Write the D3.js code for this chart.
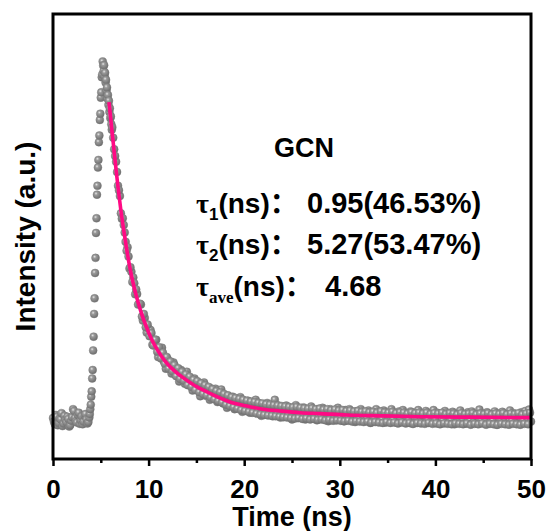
<!DOCTYPE html>
<meta charset="utf-8">
<script src="https://d3js.org/d3.v7.min.js"></script>
<style>
  body { margin: 0; background: #fff; }
  text { font-family: Arial, "Liberation Sans", "Noto Sans CJK SC", sans-serif; font-weight: bold; fill: #000; }
</style>
<svg id="chart" width="552" height="531"></svg>

<script>

// TRPL decay of GCN, counts (arbitrary units)
// pre-pulse baseline, sampled every 0.1 ns from 0 ns
var preStart = 0, preStep = 0.1;
var preCounts = [92, 84, 78, 99, 95, 76, 81, 91, 89, 103,
  74, 80, 97, 88, 83, 95, 90, 73, 76, 86,
  94, 112, 108, 92, 85, 82, 99, 104, 79, 87,
  96, 78, 84, 98, 101, 89, 80, 83, 93];

// rise and peak, sampled every 0.05 ns from 3.85 ns
var riseStart = 3.85, riseStep = 0.05;
var riseCounts = [101, 112, 122, 140, 152, 181, 200, 244, 275, 326, 361, 418, 452, 508, 541, 594,
  614, 655, 672, 712, 727, 762, 776, 812, 824, 858, 864, 893, 884,
  872, 885, 860, 868, 846, 852, 828, 835, 810, 818, 796, 805, 780, 788, 766, 770, 752, 740];

// decay tail, sampled every 0.2 ns from 6.2 ns
var decayStart = 6.2, decayStep = 0.2;
var decayCounts = [745, 696, 668, 614, 591, 540, 526, 488, 476, 428,
  421, 408, 370, 371, 348, 347, 311, 317, 284, 293,
  290, 257, 262, 268, 229, 243, 250, 219, 203, 224,
  210, 192, 217, 189, 202, 174, 200, 185, 169, 196,
  168, 179, 154, 181, 160, 171, 141, 162, 172, 142,
  154, 133, 158, 137, 158, 128, 141, 156, 125, 139,
  115, 140, 124, 140, 112, 129, 115, 139, 106, 129,
  117, 131, 104, 123, 106, 133, 109, 125, 97, 116,
  101, 126, 108, 119, 96, 133, 101, 120, 93, 113,
  97, 120, 101, 115, 89, 108, 121, 92, 111, 95,
  116, 89, 108, 96, 118, 91, 110, 87, 113, 98,
  115, 89, 103, 85, 112, 94, 109, 87, 115, 91,
  105, 85, 110, 96, 112, 87, 102, 83, 108, 91,
  112, 86, 104, 88, 109, 81, 102, 92, 112, 84,
  106, 89, 109, 82, 99, 86, 112, 90, 104, 81,
  107, 92, 110, 83, 101, 86, 107, 79, 104, 92,
  110, 84, 99, 81, 108, 88, 103, 83, 110, 89,
  104, 79, 101, 85, 108, 81, 97, 88, 106, 78,
  103, 90, 109, 83, 100, 80, 105, 86, 107, 82,
  98, 79, 111, 88, 102, 83, 105, 80, 98, 86,
  107, 77, 102, 89, 106, 82, 100, 79, 109, 85,
  103, 81, 97, 78, 105, 87, 108, 83, 111, 84];

// interleaved channels of the decay tail, every 0.2 ns from 6.3 ns
var decayStart2 = 6.3, decayStep2 = 0.2;
var decayCounts2 = [722, 681, 645, 604, 552, 541, 509, 468, 455, 431,
  398, 395, 381, 347, 349, 320, 326, 296, 302, 276,
  283, 255, 268, 241, 251, 226, 239, 214, 229, 203,
  219, 197, 211, 186, 204, 180, 196, 176, 190, 166,
  185, 162, 178, 155, 175, 150, 170, 146, 166, 143,
  162, 138, 157, 134, 153, 130, 150, 127, 146, 122,
  143, 119, 139, 116, 137, 113, 135, 110, 133, 108,
  131, 106, 129, 104, 128, 102, 126, 100, 125, 99,
  123, 98, 122, 97, 121, 96, 120, 95, 119, 94,
  118, 93, 117, 92, 116, 91, 117, 92, 115, 90,
  114, 91, 113, 89, 114, 90, 112, 88, 113, 89,
  111, 87, 112, 88, 110, 86, 111, 87, 109, 86,
  110, 85, 108, 86, 109, 84, 107, 85, 108, 84,
  106, 83, 107, 84, 105, 82, 106, 83, 104, 82,
  107, 81, 105, 83, 104, 81, 106, 82, 103, 80,
  105, 82, 104, 80, 102, 81, 105, 79, 103, 81,
  104, 80, 102, 79, 104, 81, 101, 79, 103, 80,
  102, 78, 104, 80, 101, 79, 103, 78, 102, 80,
  100, 79, 103, 78, 101, 80, 102, 77, 103, 79,
  100, 78, 102, 80, 101, 77, 103, 79, 100, 78,
  102, 77, 101, 79, 103, 78, 100, 77, 102, 79,
  101, 78, 103, 77, 100, 79, 102, 78, 104];

// bi-exponential fit curve
var fitTime = [5.86, 6.17, 6.49, 6.80, 7.11, 7.43, 7.74, 8.05, 8.47, 8.89, 9.31, 9.73, 10.36, 10.98,
  11.72, 12.45, 13.28, 14.12, 15.06, 15.90, 16.74, 17.68, 18.51, 20.29, 21.97, 23.74, 25.84,
  27.93, 30.75, 34.21, 38.39, 43.62, 50];
var fitCounts = [802, 737, 672, 611, 557, 510, 467, 429, 387, 353, 324, 299, 267, 243,
  220, 203, 188, 175, 162, 153, 144, 135, 128, 119, 112, 108, 104,
  102, 99, 97, 95, 94, 93];

var xTicks = [0, 10, 20, 30, 40, 50];
var xMinorTicks = [5, 15, 25, 35, 45];

var svg = d3.select("#chart");
var plotLeft = 53, plotRight = 531, plotTop = 14, plotBottom = 459;

var x = d3.scaleLinear().domain([0, 50]).range([plotLeft, plotRight]);
var y = d3.scaleLinear().domain([0, 1000]).range([plotBottom, plotTop]);

// shaded ball symbol
var grad = svg.append("defs").append("radialGradient")
    .attr("id", "ball").attr("cx", "38%").attr("cy", "35%").attr("r", "65%");
grad.append("stop").attr("offset", "0%").attr("stop-color", "#e8e8e8");
grad.append("stop").attr("offset", "30%").attr("stop-color", "#9a9a9a");
grad.append("stop").attr("offset", "100%").attr("stop-color", "#6f6f6f");

// build point list
var points = [];
function addSegment(start, step, counts) {
  counts.forEach(function(c, i){ points.push([start + i * step, c]) });
}
addSegment(preStart, preStep, preCounts);
addSegment(riseStart, riseStep, riseCounts);
addSegment(decayStart, decayStep, decayCounts);
addSegment(decayStart2, decayStep2, decayCounts2);

svg.append("g")
  .selectAll("circle")
  .data(points)
  .enter().append("circle")
    .attr("cx", function(d){ return x(d[0]) })
    .attr("cy", function(d){ return y(d[1]) })
    .attr("r", 4)
    .attr("fill", "url(#ball)")
    .attr("stroke", "#777")
    .attr("stroke-width", 0.4);

// fit line
var fit = fitTime.map(function(t, i){ return [t, fitCounts[i]] });
svg.append("path")
  .datum(fit)
  .attr("d", d3.line()
      .x(function(d){ return x(d[0]) })
      .y(function(d){ return y(d[1]) })
      .curve(d3.curveMonotoneX))
  .attr("fill", "none")
  .attr("stroke", "#ff0a84")
  .attr("stroke-width", 3.6);

// frame
svg.append("rect")
  .attr("x", plotLeft).attr("y", plotTop)
  .attr("width", plotRight - plotLeft).attr("height", plotBottom - plotTop)
  .attr("fill", "none").attr("stroke", "#000").attr("stroke-width", 3);

// x axis
var xAxis = svg.append("g")
  .attr("transform", "translate(0," + plotBottom + ")")
  .call(d3.axisBottom(x).tickValues(xTicks).tickSize(7).tickFormat(d3.format("d")));
xAxis.select(".domain").remove();
xAxis.selectAll(".tick line").attr("stroke", "#000").attr("stroke-width", 2.5);
xAxis.selectAll(".tick text")
  .attr("y", 21).attr("dy", "0.71em")
  .style("font-size", "26px")
  .style("font-family", "Arial, 'Liberation Sans', sans-serif")
  .style("font-weight", "bold")
  .attr("fill", "#000");

var xMinor = svg.append("g")
  .attr("transform", "translate(0," + plotBottom + ")")
  .call(d3.axisBottom(x).tickValues(xMinorTicks).tickSize(4).tickFormat(""));
xMinor.select(".domain").remove();
xMinor.selectAll(".tick line").attr("stroke", "#000").attr("stroke-width", 2.5);

// axis titles
svg.append("text")
  .attr("x", (plotLeft + plotRight) / 2).attr("y", 526)
  .attr("text-anchor", "middle")
  .style("font-size", "27px")
  .text("Time (ns)");

svg.append("text")
  .attr("transform", "translate(35," + ((plotTop + plotBottom) / 2) + ") rotate(-90)")
  .attr("text-anchor", "middle")
  .style("font-size", "28px")
  .text("Intensity (a.u.)");

// annotation
svg.append("text")
  .attr("x", 274).attr("y", 157)
  .style("font-size", "27px")
  .text("GCN");

var tauLines = [
  { sub: "1", value: "0.95(46.53%)", y: 213, vx: 307 },
  { sub: "2", value: "5.27(53.47%)", y: 254, vx: 307 },
  { sub: "ave", value: "4.68", y: 296, vx: 325 }
];

tauLines.forEach(function(d){
  var t = svg.append("text").attr("x", 196).attr("y", d.y).style("font-size", "28px");
  t.append("tspan")
    .style("font-family", "'Liberation Serif', 'Times New Roman', serif")
    .text("τ");
  t.append("tspan")
    .attr("dy", 7)
    .style("font-size", "17px")
    .style("font-family", d.sub == "ave" ? "'Liberation Serif', serif" : null)
    .text(d.sub);
  t.append("tspan").attr("dy", -7).text("(ns)");
  t.append("tspan").style("font-family", "'Noto Sans CJK SC', sans-serif").text("：");
  svg.append("text")
    .attr("x", d.vx).attr("y", d.y)
    .style("font-size", "29px")
    .text(d.value);
});

</script>
